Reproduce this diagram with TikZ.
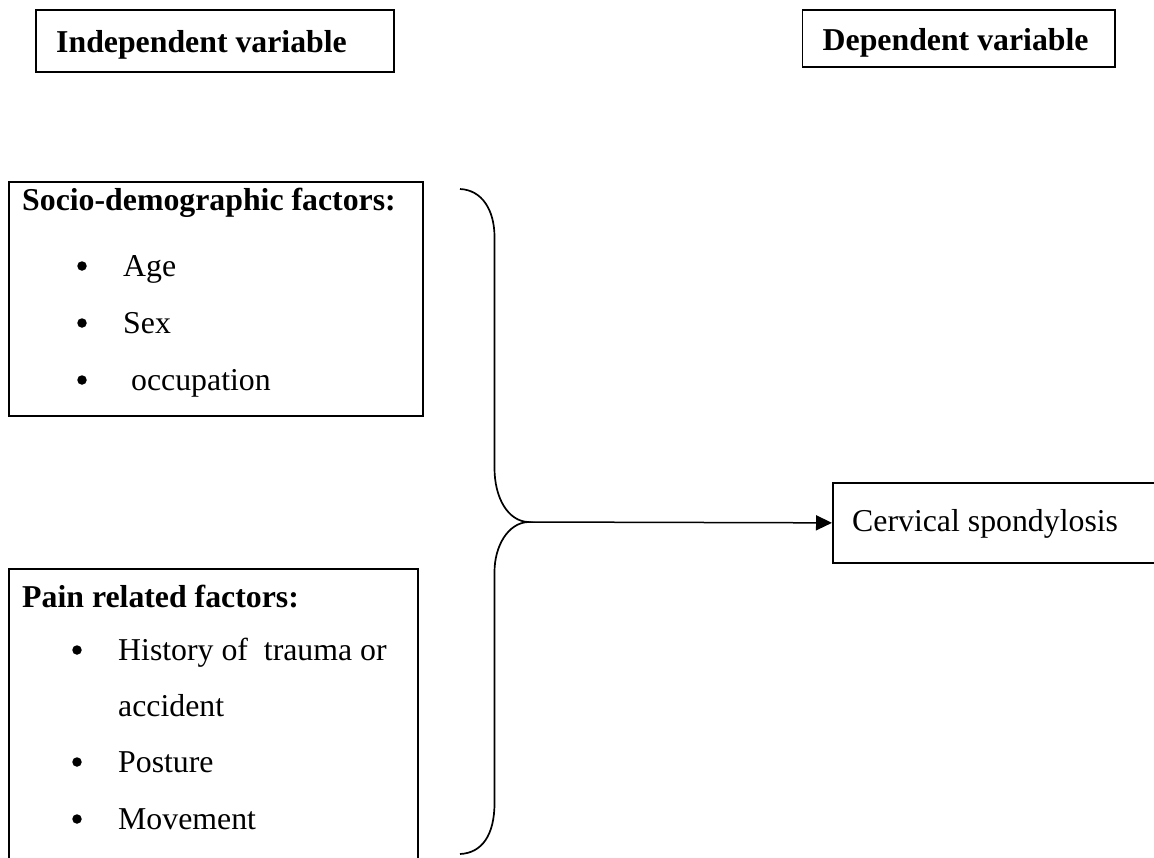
\documentclass[tikz,border=0pt]{standalone}
\usepackage{fontspec}
\setmainfont{Liberation Serif}
\usetikzlibrary{arrows.meta}
\begin{document}
\begin{tikzpicture}[x=1pt,y=-1pt,
  box/.style={draw,line width=1.7pt,anchor=north west,inner sep=0pt},
  txt/.style={anchor=base west,inner sep=0pt,font=\fontsize{31.8}{38}\selectfont},
  btxt/.style={txt,font=\fontsize{31.8}{38}\selectfont\bfseries},
  bul/.style={circle,fill,inner sep=0pt,minimum size=9.5pt},
  brace/.style={line width=1.7pt},
  arr/.style={line width=1.5pt,-{Triangle[length=16pt,width=15pt]}}]
\useasboundingbox (0,0) rectangle (1154,857);
% header boxes
\node[box,minimum width=358pt,minimum height=62pt] (indep) at (35,9) {};
\node[btxt] (indept) at (56,52.5) {Independent variable};
\node[box,minimum width=312.5pt,minimum height=57pt] (dep) at (801.5,9) {};
\node[btxt] (dept) at (822.5,50.5) {Dependent variable};
% socio-demographic box
\node[box,minimum width=414pt,minimum height=234pt] (socio) at (8,181) {};
\node[btxt] (sociot) at (22,210) {Socio-demographic factors:};
\node[bul] (b1) at (82,266) {};
\node[txt] (age) at (123,276) {Age};
\node[bul] (b2) at (82,323) {};
\node[txt] (sex) at (123,333) {Sex};
\node[bul] (b3) at (82,380) {};
\node[txt] (occ) at (131,390) {occupation};
% pain box
\node[box,minimum width=409pt,minimum height=320pt] (pain) at (8,568) {};
\node[btxt] (paint) at (22,607) {Pain related factors:};
\node[bul] (p1) at (77,650) {};
\node[txt] (hist) at (118,660) {History of \ trauma or};
\node[txt] (acc) at (118,716) {accident};
\node[bul] (p2) at (77,762) {};
\node[txt] (post) at (118,772) {Posture};
\node[bul] (p3) at (77,819) {};
\node[txt] (move) at (118,829) {Movement};
% outcome box
\node[box,minimum width=340pt,minimum height=80pt] (cerv) at (832,482) {};
\node[txt] (cervt) at (852,531.5) {Cervical spondylosis};
% brace
\coordinate (btop) at (460,189);
\coordinate (tip) at (528,522);
\coordinate (bbot) at (460,854);
\draw[brace] (btop) .. controls (482,190) and (494.5,210) .. (494.5,237)
  -- (494.5,468) .. controls (494.5,498) and (508,521) .. (tip)
  .. controls (508,523) and (494.5,546) .. (494.5,572)
  -- (494.5,803) .. controls (494.5,835) and (482,853) .. (bbot);
\draw[arr] (tip) -- (cerv.west);
\end{tikzpicture}
\end{document}
